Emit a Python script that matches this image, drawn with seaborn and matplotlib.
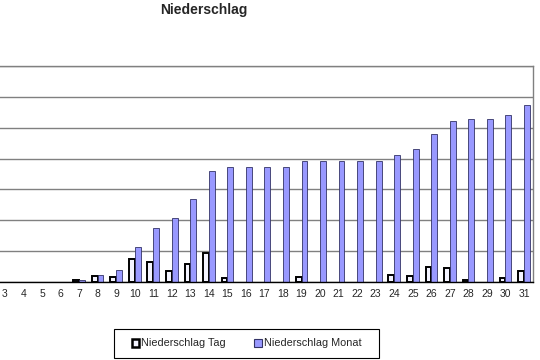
import matplotlib
matplotlib.use("Agg")
import matplotlib.pyplot as plt
import seaborn as sns
import pandas as pd
from matplotlib.patches import Patch, Rectangle

days = list(range(1, 32))
tag = [0, 0, 0, 0, 0, 0, 0.6, 2.0, 1.7, 7.3, 6.5, 3.7, 5.8, 9.3, 1.4, 0, 0, 0, 1.7, 0,
       0, 0, 0, 2.2, 1.9, 4.8, 4.4, 0.6, 0, 1.4, 3.7]
monat = [0, 0, 0, 0, 0, 0, 0.6, 2.4, 3.8, 11.2, 17.4, 20.9, 26.9, 36.0, 37.4, 37.4, 37.4, 37.4, 39.1, 39.1,
         39.1, 39.1, 39.1, 41.0, 43.0, 48.0, 52.1, 52.7, 52.7, 54.0, 57.5]
series_names = ["Niederschlag Tag", "Niederschlag Monat"]

df = pd.DataFrame({
    "Tag": [str(d) for d in days] * 2,
    "Wert": tag + monat,
    "Serie": [series_names[0]] * len(days) + [series_names[1]] * len(days),
})

sns.set_style("white")
plt.rcParams["font.family"] = ["Liberation Sans", "DejaVu Sans"]

fig = plt.figure(figsize=(5.4, 3.6), dpi=100)
ax = fig.add_axes([-41.4 / 540, 1 - 282 / 360, 574.7 / 540, 216 / 360])

fills = {series_names[0]: "#F4F4FF", series_names[1]: "#9999FF"}
sns.barplot(data=df, x="Tag", y="Wert", hue="Serie", palette=fills, width=0.625,
            ax=ax, legend=False, saturation=1)

for i, cont in enumerate(ax.containers):
    for bar in cont:
        if bar.get_height() == 0:
            bar.set_visible(False)
            continue
        if i == 0:
            bar.set_edgecolor("black")
            bar.set_linewidth(1.4)
        else:
            bar.set_edgecolor("#333366")
            bar.set_linewidth(0.6)

ax.set_ylim(0, 70)
ax.set_xlim(-0.5, 30.5)
ax.set_yticks(range(0, 71, 10))
ax.set_yticklabels([])
ax.yaxis.grid(True, color="#808080", linewidth=1)
ax.set_axisbelow(True)
ax.set_xlabel("")
ax.set_ylabel("")
ax.set_xticks(range(31))
ax.set_xticklabels([str(d) for d in days], fontsize=7.5)
for lbl in ax.get_xticklabels()[:2]:
    lbl.set_visible(False)
ax.tick_params(axis="x", which="major", length=0, pad=5)
ax.set_xticks([i - 0.5 for i in range(1, 31)], minor=True)
ax.tick_params(axis="x", which="minor", length=5, direction="inout", color="black", width=0.8)
ax.tick_params(axis="y", length=0)

for s in ["top", "right"]:
    ax.spines[s].set_visible(True)
    ax.spines[s].set_color("#808080")
    ax.spines[s].set_linewidth(1)
ax.spines["bottom"].set_color("black")
ax.spines["bottom"].set_linewidth(1)
ax.spines["left"].set_visible(False)

fig.text(203.5 / 540, 1 - 10 / 360, "Niederschlag", ha="center", va="center",
         fontsize=10, fontweight="bold")

# legend frame
fig.patches.append(Rectangle((114 / 540, 1 - 358 / 360), 265 / 540, 29 / 360,
                             transform=fig.transFigure, fill=False,
                             edgecolor="black", linewidth=0.8))

handles = [Patch(facecolor=fills[series_names[0]], edgecolor="black", linewidth=1.8),
           Patch(facecolor=fills[series_names[1]], edgecolor="#333366", linewidth=0.8)]
leg = fig.legend(handles, series_names, loc="center", ncol=2,
                 bbox_to_anchor=(246.5 / 540, 1 - 343.5 / 360),
                 fontsize=7.8, frameon=False,
                 handlelength=0.7, handleheight=0.7, handletextpad=0.2, columnspacing=2.6)

fig.savefig("out.png", dpi=100)
